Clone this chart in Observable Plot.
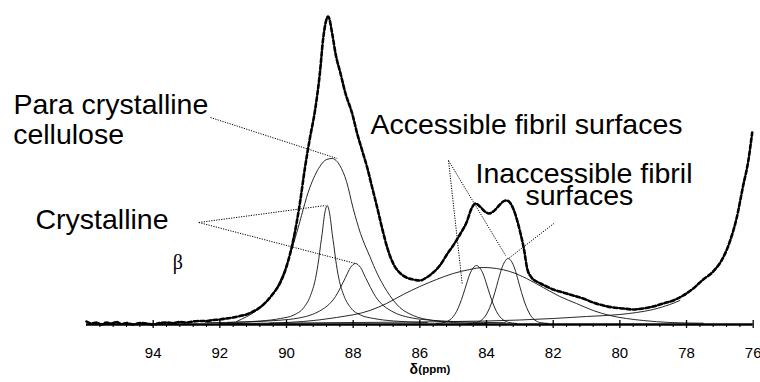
<!DOCTYPE html>
<html><head><meta charset="utf-8">
<script src="https://cdn.jsdelivr.net/npm/d3@7"></script>
<script src="https://cdn.jsdelivr.net/npm/@observablehq/plot@0.6"></script>
<style>body{margin:0;background:#fff} svg{display:block}</style>
</head><body><div id="chart"></div>
<script>
// [ppm, intensity] — measured spectrum (thick trace)
const spectrum = [
 [96.0,2],[95.85,0],[95.7,1],[95.55,-1],[95.4,1],[95.25,0],[95.1,1.5],[94.95,-0.5],[94.8,0.5],[94.6,-1],
 [94.4,0.5],[94.2,0],[94.0,-1],[93.8,0.5],[93.6,1],[93.4,0.5],[93.2,1.5],[93.0,1],[92.8,2],[92.6,2.5],
 [92.4,2.5],[92.2,3.5],[92.0,4],[91.8,5],[91.6,6],[91.4,7.5],[91.2,9],[91.0,12],[90.8,16],[90.6,22],
 [90.4,30],[90.2,40],[90.0,57],[89.8,83],[89.6,120],[89.45,155],[89.3,185],[89.15,212],[89.0,250],[88.9,285],
 [88.75,307],[88.63,290],[88.53,270],[88.38,250],[88.23,230],[88.03,210],[87.88,190],[87.73,173],[87.58,156],[87.43,136],
 [87.28,116],[87.13,95],[86.98,76],[86.8,60],[86.58,50],[86.4,46],[86.2,44],[86.0,43],[85.8,46],[85.6,51],
 [85.4,58],[85.17,70],[85.0,78],[84.78,90],[84.6,101],[84.45,115],[84.33,120],[84.2,117],[84.05,112],[83.93,110],
 [83.8,112],[83.65,117],[83.5,122],[83.4,123],[83.3,121],[83.2,115],[83.08,103],[82.98,90],[82.88,75],[82.78,55],
 [82.65,46],[82.5,42],[82.38,40],[82.2,37],[82.0,34],[81.7,31],[81.4,28],[81.1,25],[80.8,21],[80.5,18],
 [80.2,16],[79.9,15],[79.6,14],[79.3,15],[79.0,17],[78.7,20],[78.4,23],[78.1,28],[77.8,35],[77.5,44],
 [77.2,52],[76.9,66],[76.7,82],[76.5,105],[76.3,138],[76.15,162],[76.03,191]
];
// deconvolution components (thin lines)
const paraCrystalline = [
 [91.5,2],[90.9,13],[90.5,25],[90.2,42],[89.9,68],[89.7,90],[89.3,136],[89.0,157],[88.8,164],[88.63,165],
 [88.4,158],[88.2,142],[88.0,115],[87.78,90],[87.5,67],[87.28,50],[87.0,33],[86.6,16],[86.2,8],[85.6,3],[85.0,1],[84.0,0]
];
const crystalline1 = [
 [91.78,1],[90.78,2.5],[90.18,5],[89.78,8.5],[89.48,16],[89.28,28],[89.13,45],[89.03,65],[88.98,78],[88.93,90],
 [88.88,104],[88.83,114],[88.78,118],[88.73,114],[88.68,104],[88.63,90],[88.58,78],[88.53,65],[88.43,45],[88.28,28],
 [88.08,16],[87.78,8.5],[87.38,5],[86.78,2.5],[85.78,1]
];
const crystalline2 = [
 [92.43,0.8],[91.13,1.7],[90.23,3.2],[89.63,5.5],[89.23,9],[88.93,14],[88.73,19],[88.53,27],[88.38,36],[88.23,46],
 [88.08,56],[87.93,60],[87.78,56],[87.63,46],[87.48,36],[87.33,27],[87.13,19],[86.93,14],[86.63,9],[86.23,5.5],
 [85.63,3.2],[84.73,1.7],[83.43,0.8]
];
const accessibleBroad = [
 [90.5,0.5],[89.5,2],[88.5,6],[87.5,13],[87.0,20],[86.5,29],[86.0,37],[85.5,44],[85.0,50],[84.5,54],
 [84.1,56],[83.7,55],[83.3,52],[82.8,45],[82.3,36],[81.8,27],[81.3,20],[80.8,13],[80.3,8],[79.8,5],
 [79.3,3],[78.5,1],[77.5,0.3]
];
const accessibleNarrow = [
 [85.5,0.1],[85.25,1.2],[85.1,3.6],[85.0,6.8],[84.9,12],[84.8,19.5],[84.7,29],[84.6,39.5],[84.5,49.5],[84.4,55.5],
 [84.3,58],[84.2,55.5],[84.1,49.5],[84.0,39.5],[83.9,29],[83.8,19.5],[83.7,12],[83.6,6.8],[83.5,3.6],[83.35,1.2],[83.1,0.1]
];
const inaccessible = [
 [84.55,0.1],[84.3,1.0],[84.15,3.4],[84.05,6.8],[83.95,12.5],[83.85,20.5],[83.75,31],[83.65,43],[83.55,54.5],[83.45,62],
 [83.35,65],[83.25,62],[83.15,54.5],[83.05,43],[82.95,31],[82.85,20.5],[82.75,12.5],[82.65,6.8],[82.55,3.4],[82.4,1.0],[82.15,0.1]
];
const background = [
 [92,0],[90,0.5],[88,1],[86,1.5],[85,2],[84,2.5],[83,3.5],[82,5],[81,7],[80,9],[79.5,11],[79,14],[78.5,19],[78.2,23]
];
const components = [paraCrystalline, crystalline1, crystalline2, accessibleBroad, accessibleNarrow, inaccessible, background];

const majorTicks = [94, 92, 90, 88, 86, 84, 82, 80, 78, 76];
const minorTicks = d3.range(0, 50).map(i => +(76 + i * 0.4).toFixed(1))
  .filter(t => t < 95.8 && majorTicks.every(m => Math.abs(m - t) > 0.05));

const annotations = [
 {text: "Para crystalline", ppm: 98.19, v: 210},
 {text: "cellulose", ppm: 98.2, v: 180},
 {text: "Crystalline", ppm: 97.53, v: 95},
 {text: "Accessible fibril surfaces", ppm: 87.48, v: 190},
 {text: "Inaccessible fibril", ppm: 84.33, v: 141},
 {text: "surfaces", ppm: 82.83, v: 119}
];
const betaLabel = [{text: "β", ppm: 93.26, v: 55}];
const leaders = [
 {x1: 92.28, y1: 206, x2: 88.48, y2: 165},
 {x1: 92.63, y1: 101, x2: 88.83, y2: 118},
 {x1: 92.63, y1: 101, x2: 87.93, y2: 60},
 {x1: 85.14, y1: 163, x2: 84.73, y2: 40},
 {x1: 85.14, y1: 163, x2: 83.43, y2: 68},
 {x1: 81.98, y1: 100, x2: 83.34, y2: 65}
];

const X = d => d[0], Y = d => d[1];
const chart = Plot.plot({
  width: 760, height: 382,
  marginLeft: 86, marginRight: 7.3, marginTop: 13, marginBottom: 59,
  x: {domain: [96, 76], axis: null},
  y: {domain: [0, 310], axis: null},
  style: {fontFamily: "'Liberation Sans', Arial, sans-serif", background: "white", overflow: "visible", color: "black"},
  marks: [
    ...components.map(c => Plot.line(c, {x: X, y: Y, curve: "monotone-x", stroke: "#111", strokeWidth: 0.9})),
    Plot.line(spectrum, {x: X, y: Y, curve: "monotone-x", stroke: "black", strokeWidth: 1.2}),
    Plot.line(spectrum, {x: X, y: Y, curve: "monotone-x", stroke: "black", strokeWidth: 2.6, strokeDasharray: "4,2.5"}),
    Plot.ruleY([-1], {stroke: "black", strokeWidth: 2.4}),
    Plot.ruleX(majorTicks, {y1: -5, y2: 3, stroke: "black", strokeWidth: 1.3}),
    Plot.ruleX(minorTicks, {y1: -4, y2: -1, stroke: "black", strokeWidth: 1.1}),
    Plot.text(majorTicks, {x: d => d, text: d => String(d), frameAnchor: "bottom", dy: 34, lineAnchor: "bottom", fontSize: 15, fill: "black"}),
    Plot.text(["δ"], {frameAnchor: "bottom", dx: -10.3, dy: 50, textAnchor: "start", lineAnchor: "bottom", fontSize: 14, fontWeight: "bold", fill: "black"}),
    Plot.text(["(ppm)"], {frameAnchor: "bottom", dx: -1.5, dy: 49, textAnchor: "start", lineAnchor: "bottom", fontSize: 11.5, fontWeight: "bold", fill: "black"}),
    Plot.link(leaders, {x1: "x1", y1: "y1", x2: "x2", y2: "y2", stroke: "black", strokeWidth: 1, strokeDasharray: "1.2,1.3"}),
    Plot.text(annotations, {x: "ppm", y: "v", text: "text", textAnchor: "start", lineAnchor: "bottom", fontSize: 28.5, fill: "black"}),
    Plot.text(betaLabel, {x: "ppm", y: "v", text: "text", textAnchor: "middle", lineAnchor: "bottom", fontSize: 20, fontFamily: "'Liberation Serif', 'Times New Roman', serif", fill: "black"})
  ]
});
document.getElementById("chart").append(chart);
</script>
</body></html>
